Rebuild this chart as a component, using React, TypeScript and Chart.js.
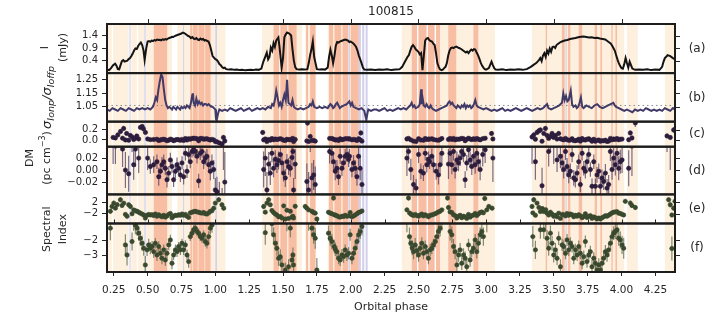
import React, { useEffect, useRef } from 'react';
import { Chart, registerables } from 'chart.js';
Chart.register(...registerables);
Chart.defaults.font.family = "'DejaVu Sans', sans-serif";

const TITLE = '100815';
const X_MIN = 0.2;
const X_MAX = 4.395;
const X_TICKS = [0.25, 0.5, 0.75, 1.0, 1.25, 1.5, 1.75, 2.0, 2.25, 2.5, 2.75, 3.0, 3.25, 3.5, 3.75, 4.0, 4.25];
const X_TOP_TICKS = [0.5, 1.0, 1.5, 2.0, 2.5, 3.0, 3.5, 4.0];
const X_LABEL = 'Orbital phase';

// Panel (a): I (mJy)
const I_FLUX: [number, number][] = [
  [0.2, 0.03], [0.215, 0.02], [0.23, 0.1], [0.245, 0.22], [0.26, 0.28], [0.27, 0.2], [0.28, 0.06], [0.29, 0.05], [0.3, 0.22], [0.31, 0.38], [0.32, 0.42], [0.33, 0.36], [0.34, 0.38], [0.35, 0.4], [0.36, 0.46], [0.37, 0.5], [0.38, 0.58], [0.39, 0.68], [0.4, 0.8], [0.41, 0.88], [0.42, 0.86], [0.43, 0.98], [0.44, 1.06], [0.45, 1.12], [0.46, 1.02], [0.47, 0.8], [0.478, 0.43], [0.49, 0.9], [0.5, 1.16],
  [0.51, 1.18], [0.52, 1.15], [0.53, 1.2], [0.54, 1.18], [0.55, 1.22], [0.56, 1.2], [0.57, 1.24], [0.58, 1.22], [0.59, 1.23], [0.6, 1.21], [0.61, 1.25], [0.62, 1.23], [0.63, 1.26], [0.64, 1.24], [0.65, 1.28], [0.66, 1.3], [0.67, 1.32], [0.68, 1.35], [0.69, 1.34], [0.7, 1.38], [0.71, 1.4], [0.72, 1.42], [0.73, 1.44], [0.74, 1.46], [0.75, 1.48], [0.76, 1.52], [0.77, 1.5], [0.78, 1.46], [0.79, 1.42], [0.8, 1.38],
  [0.81, 1.36], [0.82, 1.3], [0.83, 1.34], [0.84, 1.28], [0.85, 1.26], [0.86, 1.3], [0.87, 1.24], [0.88, 1.22], [0.89, 1.28], [0.9, 1.24], [0.91, 1.26], [0.92, 1.2], [0.93, 1.22], [0.94, 1.18], [0.95, 1.16], [0.96, 1.02], [0.97, 0.8], [0.98, 0.58], [0.99, 0.52], [1.0, 0.46], [1.01, 0.43], [1.02, 0.36], [1.03, 0.26], [1.04, 0.22], [1.05, 0.14], [1.06, 0.1], [1.07, 0.12], [1.08, 0.06],
  [1.1, 0.04], [1.12, 0.05], [1.14, 0.03], [1.16, 0.04], [1.18, 0.02], [1.2, 0.03], [1.22, 0.01], [1.24, 0.02], [1.26, 0.03], [1.28, 0.02], [1.3, 0.04], [1.32, 0.03], [1.34, 0.08],
  [1.355, 0.36], [1.365, 0.5], [1.38, 0.72], [1.39, 0.45], [1.4, 0.55], [1.41, 0.92], [1.42, 0.8], [1.43, 1.1], [1.44, 0.95], [1.45, 1.2], [1.466, 1.32], [1.475, 0.9], [1.49, 0.12], [1.5, 0.5], [1.51, 1.33], [1.52, 1.45], [1.53, 1.52], [1.54, 1.5], [1.55, 1.46], [1.56, 1.4], [1.57, 0.85], [1.58, 0.4], [1.59, 0.14], [1.6, 0.06], [1.62, 0.04], [1.64, 0.05], [1.66, 0.04], [1.68, 0.06],
  [1.69, 0.3], [1.7, 0.62], [1.71, 0.85], [1.72, 1.16], [1.73, 0.55], [1.74, 0.3], [1.75, 0.06], [1.77, 0.04], [1.79, 0.05], [1.81, 0.04], [1.83, 0.12], [1.84, 0.55], [1.85, 0.83], [1.86, 0.6], [1.87, 0.3], [1.88, 0.6], [1.89, 1.0], [1.9, 1.14], [1.91, 1.12], [1.92, 1.16], [1.93, 1.18], [1.94, 1.2], [1.95, 1.22], [1.96, 1.24], [1.97, 1.22], [1.98, 1.2], [1.99, 1.14], [2.0, 1.16],
  [2.01, 1.12], [2.02, 1.08], [2.03, 1.02], [2.04, 0.94], [2.05, 0.8], [2.06, 0.6], [2.07, 0.45], [2.08, 0.3], [2.09, 0.12], [2.1, 0.04], [2.12, 0.03], [2.15, 0.04], [2.18, 0.02], [2.21, 0.04], [2.24, 0.03], [2.27, 0.05], [2.3, 0.02], [2.33, 0.04], [2.36, 0.05],
  [2.38, 0.15], [2.4, 0.35], [2.42, 0.55], [2.43, 0.62], [2.44, 0.8], [2.45, 0.95], [2.46, 1.02], [2.47, 0.95], [2.48, 0.85], [2.49, 0.8], [2.5, 0.75], [2.51, 0.65], [2.52, 0.7], [2.53, 0.02], [2.54, 0.6], [2.55, 1.2], [2.56, 1.28], [2.57, 1.3], [2.58, 1.22], [2.59, 1.18], [2.6, 1.16], [2.61, 1.08], [2.62, 1.02], [2.63, 0.7], [2.64, 0.3], [2.65, 0.15], [2.66, 0.05], [2.67, 0.02], [2.68, 0.04],
  [2.69, 0.1], [2.7, 0.15], [2.71, 0.3], [2.72, 0.6], [2.73, 0.8], [2.74, 0.9], [2.75, 0.92], [2.76, 0.9], [2.77, 0.94], [2.78, 0.96], [2.79, 0.93], [2.8, 0.9], [2.81, 0.88], [2.82, 0.84], [2.83, 0.8], [2.84, 0.76], [2.85, 0.72], [2.86, 0.76], [2.87, 0.7], [2.88, 0.78], [2.89, 0.84], [2.9, 0.8], [2.91, 0.86], [2.92, 0.84], [2.93, 0.72], [2.94, 0.62], [2.95, 0.48], [2.96, 0.32], [2.97, 0.2], [2.98, 0.12], [2.99, 0.06], [3.0, 0.04],
  [3.02, 0.1], [3.04, 0.36], [3.05, 0.22], [3.06, 0.1], [3.07, 0.04], [3.09, 0.03], [3.12, 0.05], [3.15, 0.02], [3.18, 0.04], [3.21, 0.03], [3.24, 0.05], [3.27, 0.03], [3.3, 0.06],
  [3.33, 0.15], [3.35, 0.23], [3.37, 0.3], [3.39, 0.42], [3.4, 0.5], [3.41, 0.38], [3.42, 0.6], [3.43, 0.7], [3.44, 0.55], [3.45, 0.8], [3.46, 0.68], [3.47, 0.88], [3.48, 0.75], [3.49, 0.94], [3.5, 0.96], [3.51, 0.9], [3.52, 1.02], [3.53, 1.06], [3.54, 1.1], [3.55, 1.14], [3.56, 1.16], [3.57, 1.18], [3.58, 1.2], [3.6, 1.22], [3.62, 1.26], [3.64, 1.28], [3.66, 1.3], [3.68, 1.33], [3.7, 1.35], [3.72, 1.36],
  [3.74, 1.34], [3.76, 1.32], [3.78, 1.33], [3.8, 1.3], [3.82, 1.31], [3.84, 1.28], [3.86, 1.26], [3.88, 1.24], [3.9, 1.16], [3.91, 1.12], [3.92, 1.08], [3.93, 1.0], [3.94, 0.9], [3.95, 0.8], [3.96, 0.62], [3.97, 0.45], [3.98, 0.3], [3.99, 0.18], [4.0, 0.1], [4.01, 0.08], [4.02, 0.25], [4.03, 0.5], [4.04, 0.3], [4.05, 0.12], [4.06, 0.36], [4.07, 0.22], [4.08, 0.08],
  [4.1, 0.03], [4.13, 0.04], [4.16, 0.03], [4.19, 0.05], [4.22, 0.02], [4.25, 0.04], [4.28, 0.03], [4.3, 0.15], [4.31, 0.35], [4.32, 0.5], [4.33, 0.55], [4.34, 0.62], [4.36, 0.58], [4.38, 0.5], [4.395, 0.45],
];

// Panel (b): sigma ratio
const SIGMA_RATIO: [number, number][] = [
  [0.2, 1.03], [0.22, 1.02], [0.24, 1.04], [0.26, 1.03], [0.28, 1.02], [0.3, 1.04], [0.32, 1.03], [0.34, 1.02], [0.36, 1.04], [0.38, 1.03], [0.4, 1.02], [0.42, 1.04], [0.44, 1.03], [0.46, 1.04], [0.48, 1.03], [0.5, 1.04], [0.52, 1.03], [0.54, 1.05], [0.55, 1.08], [0.56, 1.12], [0.57, 1.1], [0.58, 1.18], [0.59, 1.24], [0.6, 1.29], [0.61, 1.27], [0.62, 1.18], [0.63, 1.1], [0.64, 1.06], [0.65, 1.04],
  [0.66, 1.05], [0.67, 1.04], [0.68, 1.03], [0.69, 1.05], [0.7, 1.04], [0.71, 1.03], [0.72, 1.05], [0.73, 1.04], [0.74, 1.03], [0.75, 1.05], [0.76, 1.04], [0.77, 1.05], [0.78, 1.04], [0.79, 1.06], [0.8, 1.05], [0.81, 1.04], [0.82, 1.08], [0.83, 1.14], [0.835, 1.15], [0.84, 1.08], [0.85, 1.06], [0.86, 1.11], [0.87, 1.07], [0.88, 1.09], [0.89, 1.07], [0.9, 1.08], [0.91, 1.06], [0.92, 1.07], [0.93, 1.07], [0.94, 1.06], [0.95, 1.07], [0.96, 1.06], [0.97, 1.05], [0.98, 1.05], [0.99, 1.04], [1.0, 1.03],
  [1.005, 0.96], [1.01, 0.95], [1.02, 1.0], [1.03, 1.03], [1.05, 1.02], [1.07, 1.03], [1.09, 1.02], [1.11, 1.04], [1.13, 1.03], [1.15, 1.02], [1.17, 1.03], [1.19, 1.04], [1.21, 1.02], [1.23, 1.03], [1.25, 1.04], [1.27, 1.02], [1.29, 1.03], [1.31, 1.04], [1.33, 1.03], [1.35, 1.04], [1.37, 1.03], [1.39, 1.05], [1.41, 1.04], [1.42, 1.07], [1.43, 1.06], [1.44, 1.1], [1.45, 1.17], [1.46, 1.12], [1.47, 1.06], [1.48, 1.08], [1.49, 1.05], [1.5, 1.1], [1.51, 1.14], [1.52, 1.1], [1.53, 1.25], [1.54, 1.08],
  [1.55, 1.07], [1.56, 1.06], [1.57, 1.1], [1.58, 1.05], [1.59, 1.04], [1.61, 1.03], [1.63, 1.04], [1.65, 1.03], [1.67, 1.04], [1.69, 1.05], [1.7, 1.07], [1.71, 1.06], [1.72, 1.09], [1.73, 1.05], [1.75, 1.04], [1.77, 1.05], [1.79, 1.04], [1.81, 1.05], [1.83, 1.04], [1.85, 1.07], [1.86, 1.06], [1.87, 1.04], [1.88, 1.05], [1.89, 1.07], [1.9, 1.08], [1.91, 1.06], [1.92, 1.04], [1.93, 1.05], [1.95, 1.06], [1.97, 1.07], [1.98, 1.08], [1.99, 1.09], [2.0, 1.06], [2.01, 1.08], [2.02, 1.05],
  [2.04, 1.04], [2.06, 1.03], [2.08, 1.04], [2.1, 1.02], [2.115, 0.955], [2.125, 1.01], [2.13, 1.03], [2.15, 1.02], [2.17, 1.03], [2.19, 1.03], [2.21, 1.02], [2.23, 1.03], [2.25, 1.04], [2.27, 1.02], [2.29, 1.03], [2.31, 1.02], [2.33, 1.03], [2.35, 1.04], [2.37, 1.03], [2.39, 1.04], [2.41, 1.03], [2.43, 1.05], [2.44, 1.06], [2.45, 1.08], [2.46, 1.05], [2.47, 1.06], [2.48, 1.04], [2.5, 1.05], [2.51, 1.07], [2.52, 1.18], [2.525, 1.07], [2.53, 1.12], [2.54, 1.06],
  [2.55, 1.05], [2.56, 1.07], [2.57, 1.05], [2.58, 1.04], [2.59, 1.06], [2.6, 1.04], [2.61, 1.03], [2.63, 1.02], [2.65, 1.03], [2.67, 1.04], [2.69, 1.05], [2.71, 1.06], [2.72, 1.08], [2.73, 1.09], [2.74, 1.07], [2.75, 1.08], [2.76, 1.06], [2.77, 1.05], [2.78, 1.04], [2.79, 1.06], [2.8, 1.05], [2.81, 1.04], [2.82, 1.06], [2.83, 1.05], [2.84, 1.07], [2.85, 1.04], [2.86, 1.06], [2.87, 1.05], [2.88, 1.06], [2.89, 1.04], [2.9, 1.05], [2.91, 1.07], [2.92, 1.1], [2.93, 1.06], [2.94, 1.05],
  [2.96, 1.04], [2.98, 1.03], [3.0, 1.04], [3.02, 1.03], [3.04, 1.02], [3.06, 1.03], [3.08, 1.02], [3.1, 1.03], [3.12, 1.04], [3.14, 1.02], [3.16, 1.03], [3.18, 1.02], [3.2, 1.03], [3.22, 1.04], [3.24, 1.03], [3.26, 1.02], [3.28, 1.03], [3.3, 1.04], [3.32, 1.03], [3.34, 1.02], [3.36, 1.03], [3.38, 1.04], [3.4, 1.03], [3.42, 1.04], [3.44, 1.06], [3.45, 1.07], [3.46, 1.04], [3.48, 1.03], [3.5, 1.04], [3.52, 1.05], [3.54, 1.06], [3.56, 1.08],
  [3.57, 1.15], [3.58, 1.1], [3.59, 1.13], [3.6, 1.09], [3.61, 1.1], [3.625, 1.17], [3.635, 1.07], [3.645, 1.05], [3.66, 1.06], [3.67, 1.04], [3.68, 1.05], [3.69, 1.08], [3.7, 1.12], [3.71, 1.05], [3.72, 1.04], [3.74, 1.06], [3.76, 1.05], [3.78, 1.04], [3.8, 1.06], [3.82, 1.07], [3.84, 1.05], [3.86, 1.04], [3.88, 1.05], [3.9, 1.06], [3.92, 1.07], [3.94, 1.08], [3.95, 1.06], [3.96, 1.05], [3.98, 1.04], [4.0, 1.03],
  [4.02, 1.02], [4.04, 1.03], [4.06, 1.02], [4.08, 1.01], [4.1, 1.03], [4.12, 1.02], [4.14, 1.03], [4.16, 1.02], [4.18, 1.04], [4.2, 1.03], [4.22, 1.02], [4.24, 1.03], [4.26, 1.02], [4.28, 1.03], [4.3, 1.02], [4.32, 1.04], [4.34, 1.03], [4.36, 1.02], [4.38, 1.04], [4.395, 1.03],
];
const SIGMA_REF = 1.06;

// Panels (c),(d): DM [phase, DM, error]
const DM: [number, number, number][] = [
  [0.245, 0.05, 0.04], [0.262, 0.04, 0.03], [0.28, 0.1, 0.05], [0.3, 0.17, 0.05], [0.315, 0.035, 0.03], [0.323, 0.23, 0.05], [0.336, 0.0, 0.03], [0.345, 0.13, 0.04], [0.36, -0.006, 0.03], [0.372, 0.09, 0.04], [0.385, 0.06, 0.03], [0.397, 0.009, 0.025], [0.41, 0.035, 0.03], [0.42, 0.08, 0.04], [0.434, 0.02, 0.025], [0.447, 0.25, 0.04], [0.46, 0.27, 0.04], [0.47, 0.22, 0.04], [0.484, 0.15, 0.04], [0.5, 0.02, 0.02],
  [0.52, 0.006, 0.012], [0.545, 0.009, 0.014], [0.569, 0.014, 0.012], [0.582, -0.011, 0.015], [0.594, -0.002, 0.012], [0.606, 0.009, 0.013], [0.619, 0.014, 0.012], [0.631, 0.003, 0.011], [0.643, -0.016, 0.013], [0.656, -0.005, 0.012], [0.668, 0.017, 0.012], [0.68, 0.006, 0.011], [0.692, -0.016, 0.012], [0.705, -0.002, 0.011], [0.717, 0.009, 0.012], [0.729, 0.003, 0.01], [0.742, -0.008, 0.012], [0.754, 0.012, 0.011], [0.766, -0.011, 0.013], [0.779, 0.028, 0.012], [0.791, -0.002, 0.011],
  [0.803, 0.026, 0.012], [0.815, 0.014, 0.011], [0.828, 0.031, 0.01], [0.84, 0.034, 0.01], [0.852, 0.031, 0.011], [0.865, 0.023, 0.012], [0.877, -0.018, 0.012], [0.889, 0.028, 0.011], [0.902, 0.031, 0.01], [0.914, 0.014, 0.012], [0.926, 0.02, 0.011], [0.938, 0.023, 0.012], [0.951, 0.009, 0.013], [0.963, -0.002, 0.015], [0.975, 0.012, 0.014], [0.988, 0.001, 0.016], [1.0, -0.033, 0.02], [1.012, -0.036, 0.025], [1.03, -0.06, 0.04], [1.05, -0.08, 0.05], [1.06, 0.05, 0.05], [1.07, -0.02, 0.05],
  [1.35, 0.15, 0.05], [1.357, 0.001, 0.03], [1.369, 0.02, 0.03], [1.381, -0.033, 0.03], [1.394, 0.01, 0.02], [1.406, -0.005, 0.02], [1.418, 0.028, 0.015], [1.43, 0.003, 0.015], [1.443, 0.018, 0.015], [1.455, 0.009, 0.014], [1.467, 0.016, 0.015], [1.48, 0.026, 0.013], [1.492, 0.012, 0.016], [1.504, -0.005, 0.014], [1.517, -0.013, 0.015], [1.529, 0.014, 0.013], [1.541, 0.006, 0.014], [1.554, 0.003, 0.014], [1.566, 0.021, 0.016], [1.573, 0.031, 0.015], [1.578, -0.033, 0.02], [1.59, 0.01, 0.025],
  [1.676, -0.019, 0.03], [1.681, 0.34, 0.06], [1.689, -0.033, 0.03], [1.701, 0.07, 0.04], [1.713, -0.013, 0.025], [1.726, -0.008, 0.025], [1.738, -0.024, 0.03],
  [1.844, 0.031, 0.02], [1.861, 0.028, 0.018], [1.873, 0.014, 0.016], [1.886, -0.002, 0.015], [1.898, 0.003, 0.014], [1.91, -0.011, 0.014], [1.922, 0.023, 0.013], [1.935, 0.003, 0.013], [1.947, 0.012, 0.012], [1.959, 0.023, 0.012], [1.972, 0.026, 0.012], [1.984, 0.018, 0.013], [1.991, 0.023, 0.012], [2.009, 0.001, 0.013], [2.021, 0.012, 0.013], [2.033, 0.003, 0.014], [2.046, -0.011, 0.015], [2.058, 0.023, 0.016], [2.07, 0.003, 0.02], [2.075, 0.14, 0.05], [2.083, -0.024, 0.025],
  [2.415, 0.02, 0.03], [2.427, 0.031, 0.02], [2.444, 0.001, 0.018], [2.464, -0.024, 0.016], [2.483, -0.03, 0.015], [2.501, 0.026, 0.014], [2.518, -0.002, 0.013], [2.537, -0.005, 0.013], [2.55, 0.028, 0.012], [2.562, 0.009, 0.013], [2.574, 0.018, 0.013], [2.582, 0.014, 0.012], [2.599, 0.023, 0.013], [2.611, 0.009, 0.013], [2.631, -0.002, 0.014], [2.648, -0.008, 0.016], [2.66, 0.009, 0.018], [2.673, 0.028, 0.02],
  [2.722, 0.01, 0.025], [2.734, 0.028, 0.018], [2.747, 0.009, 0.016], [2.759, 0.031, 0.015], [2.771, 0.001, 0.015], [2.784, 0.017, 0.014], [2.796, 0.012, 0.014], [2.808, 0.02, 0.013], [2.82, 0.031, 0.013], [2.833, 0.026, 0.013], [2.845, -0.016, 0.014], [2.857, 0.012, 0.013], [2.87, 0.034, 0.013], [2.882, 0.017, 0.013], [2.894, 0.006, 0.014], [2.907, 0.023, 0.014], [2.919, 0.009, 0.015], [2.931, 0.028, 0.015], [2.943, 0.014, 0.016], [2.956, 0.001, 0.018], [2.975, 0.026, 0.02], [2.993, 0.034, 0.022], [3.04, 0.13, 0.05], [3.05, 0.02, 0.04],
  [3.339, 0.06, 0.05], [3.352, 0.1, 0.05], [3.364, 0.014, 0.03], [3.376, 0.15, 0.05], [3.389, 0.18, 0.05], [3.401, 0.2, 0.05], [3.413, -0.026, 0.03], [3.426, 0.13, 0.04], [3.438, 0.23, 0.05], [3.45, 0.09, 0.04], [3.462, 0.031, 0.025], [3.475, 0.07, 0.04], [3.487, 0.13, 0.04], [3.499, 0.05, 0.04], [3.512, 0.09, 0.04], [3.524, 0.017, 0.02], [3.536, 0.13, 0.04], [3.549, 0.023, 0.02],
  [3.561, 0.012, 0.015], [3.573, 0.001, 0.015], [3.586, 0.031, 0.014], [3.598, 0.006, 0.014], [3.61, -0.008, 0.014], [3.622, -0.002, 0.013], [3.635, 0.026, 0.013], [3.647, -0.013, 0.013], [3.659, -0.016, 0.013], [3.672, -0.005, 0.013], [3.684, 0.014, 0.012], [3.696, -0.024, 0.013], [3.709, 0.028, 0.012], [3.721, 0.003, 0.012], [3.733, -0.002, 0.012], [3.745, 0.014, 0.012], [3.758, 0.026, 0.012], [3.77, 0.001, 0.012],
  [3.782, -0.027, 0.013], [3.795, 0.014, 0.012], [3.807, -0.027, 0.013], [3.819, -0.008, 0.013], [3.832, -0.002, 0.013], [3.844, -0.027, 0.014], [3.856, -0.013, 0.014], [3.868, -0.019, 0.014], [3.881, -0.005, 0.015], [3.893, -0.03, 0.015], [3.905, -0.024, 0.016], [3.918, 0.031, 0.016], [3.93, 0.001, 0.017], [3.942, 0.02, 0.017], [3.954, 0.009, 0.018], [3.967, 0.028, 0.018], [3.979, 0.003, 0.02], [3.991, 0.014, 0.02], [4.004, 0.017, 0.022],
  [4.053, 0.003, 0.03], [4.065, 0.14, 0.05], [4.077, 0.04, 0.05], [4.102, 0.34, 0.08], [4.336, 0.08, 0.05], [4.36, 0.05, 0.05], [4.385, 0.2, 0.06],
];

// Panels (e),(f): spectral index [phase, index, error]
const SPEC: [number, number, number][] = [
  [0.225, -1.2, 0.8], [0.237, 0.55, 0.9], [0.25, 1.76, 0.9], [0.262, -0.06, 0.8], [0.275, 1.2, 0.9], [0.299, 2.97, 0.9], [0.311, 0.9, 0.8], [0.324, 1.76, 0.8], [0.336, -2.31, 0.7], [0.348, -2.98, 0.7], [0.36, 1.15, 0.8], [0.373, 0.55, 0.8], [0.385, -2.09, 0.6], [0.397, -0.67, 0.7], [0.41, -1.0, 0.6], [0.422, -1.2, 0.5], [0.434, -1.53, 0.5], [0.446, -1.87, 0.5], [0.459, -2.2, 0.5], [0.471, -2.53, 0.5], [0.483, -3.64, 0.6], [0.496, -2.64, 0.4],
  [0.508, -2.31, 0.4], [0.52, -2.53, 0.4], [0.533, -2.4, 0.35], [0.545, -2.76, 0.4], [0.557, -2.2, 0.35], [0.569, -2.98, 0.4], [0.582, -2.42, 0.35], [0.594, -2.87, 0.35], [0.606, -3.2, 0.4], [0.619, -2.64, 0.35], [0.631, -3.31, 0.4], [0.643, -2.87, 0.35], [0.656, -2.31, 0.35], [0.668, -1.98, 0.35], [0.68, -3.53, 0.4], [0.692, -2.98, 0.35], [0.705, -2.64, 0.35], [0.717, -2.76, 0.35], [0.729, -2.42, 0.3], [0.742, -2.64, 0.35], [0.754, -2.2, 0.3], [0.766, -2.64, 0.35], [0.779, -2.31, 0.3], [0.791, -2.98, 0.35],
  [0.803, -3.42, 0.4], [0.815, -1.76, 0.3], [0.828, -1.53, 0.3], [0.84, -1.31, 0.3], [0.852, -1.2, 0.3], [0.865, -1.42, 0.3], [0.877, -1.53, 0.3], [0.889, -1.76, 0.3], [0.902, -1.87, 0.3], [0.914, -1.64, 0.3], [0.926, -2.09, 0.35], [0.938, -2.2, 0.35], [0.951, -1.76, 0.35], [0.963, -1.2, 0.4], [0.975, -1.0, 0.5], [0.988, -0.06, 0.6], [1.0, 1.76, 0.8], [1.025, 2.97, 0.9], [1.049, 1.15, 0.9], [1.062, -0.06, 0.9],
  [1.357, 0.55, 0.9], [1.369, -1.5, 0.8], [1.381, 1.76, 0.8], [1.394, 2.97, 0.8], [1.406, 1.15, 0.7], [1.418, -0.9, 0.7], [1.43, -1.64, 0.5], [1.443, -2.2, 0.5], [1.455, -2.53, 0.5], [1.467, -3.2, 0.5], [1.48, -3.1, 0.5], [1.492, -3.64, 0.5], [1.505, 0.77, 0.7], [1.517, -3.98, 0.5], [1.529, -0.8, 0.6], [1.541, -3.76, 0.5], [1.554, -1.2, 0.6], [1.566, -3.31, 0.5], [1.573, -2.98, 0.5], [1.578, -3.64, 0.6], [1.59, 0.6, 0.8],
  [1.664, 0.55, 0.8], [1.676, -0.06, 0.8], [1.689, -0.67, 0.7], [1.713, -1.2, 0.6], [1.726, -1.64, 0.6], [1.738, -1.87, 0.7], [1.75, -3.98, 0.8],
  [1.836, -1.53, 0.5], [1.849, -1.87, 0.5], [1.861, -2.09, 0.5], [1.873, 3.6, 0.9], [1.878, -2.42, 0.45], [1.886, -2.6, 0.45], [1.898, -2.76, 0.4], [1.91, -3.2, 0.4], [1.922, -3.31, 0.4], [1.935, -2.98, 0.4], [1.947, -3.09, 0.4], [1.959, -2.64, 0.35], [1.972, -2.98, 0.4], [1.984, -2.87, 0.4], [1.996, -1.64, 0.4], [2.009, -3.2, 0.4], [2.021, -2.87, 0.4], [2.033, -2.53, 0.4], [2.046, -2.09, 0.4], [2.058, -1.64, 0.45], [2.07, -1.42, 0.5], [2.083, -1.09, 0.6],
  [2.415, -0.67, 0.8], [2.427, 3.6, 0.9], [2.434, -1.76, 0.6], [2.444, -2.2, 0.5], [2.454, -2.5, 0.5], [2.464, -2.76, 0.5], [2.476, -2.31, 0.45], [2.488, -2.7, 0.45], [2.501, -2.98, 0.45], [2.513, -2.53, 0.4], [2.525, -2.2, 0.4], [2.537, -2.87, 0.4], [2.55, -2.42, 0.4], [2.562, -2.76, 0.4], [2.574, -3.2, 0.4], [2.587, -2.64, 0.4], [2.599, -2.53, 0.4], [2.611, -2.31, 0.4], [2.624, -2.09, 0.4], [2.636, -1.76, 0.45], [2.648, -1.42, 0.5], [2.66, -1.2, 0.55], [2.673, -0.67, 0.7],
  [2.715, 3.6, 0.9], [2.722, 0.18, 0.8], [2.734, -1.42, 0.6], [2.747, -1.64, 0.55], [2.759, -2.42, 0.5], [2.771, -2.76, 0.5], [2.784, -3.64, 0.5], [2.796, -2.98, 0.45], [2.808, -2.64, 0.45], [2.82, -3.53, 0.45], [2.833, -2.98, 0.45], [2.845, -3.2, 0.45], [2.857, -3.76, 0.45], [2.87, -2.31, 0.4], [2.882, -3.31, 0.45], [2.894, -2.76, 0.4], [2.907, -2.53, 0.4], [2.919, -1.98, 0.4], [2.931, -2.76, 0.45], [2.943, -2.2, 0.45], [2.956, -1.64, 0.5], [2.968, -1.42, 0.5], [2.98, -1.76, 0.6], [2.99, 3.45, 0.9], [3.005, -0.67, 0.8], [3.02, 0.55, 0.8], [3.044, -0.06, 0.9],
  [3.339, 0.55, 0.9], [3.345, -1.76, 0.7], [3.352, 2.97, 0.9], [3.364, -2.64, 0.6], [3.376, 1.76, 0.8], [3.39, 0.2, 0.7], [3.401, -1.31, 0.6], [3.415, -0.2, 0.7], [3.426, -1.31, 0.6], [3.44, -0.6, 0.6], [3.45, -1.87, 0.55], [3.462, -2.53, 0.5], [3.475, -1.53, 0.5], [3.487, -2.2, 0.5], [3.499, -2.98, 0.5], [3.512, -2.64, 0.45], [3.524, -3.2, 0.45], [3.536, -1.87, 0.45], [3.549, -3.76, 0.5],
  [3.561, -2.31, 0.4], [3.573, -2.42, 0.4], [3.586, -2.87, 0.4], [3.598, -1.98, 0.4], [3.61, -2.64, 0.4], [3.622, -2.2, 0.4], [3.635, -2.42, 0.4], [3.647, -3.2, 0.4], [3.659, -2.64, 0.4], [3.672, -2.98, 0.4], [3.684, -2.42, 0.4], [3.696, -2.87, 0.4], [3.709, -3.53, 0.4], [3.721, -3.09, 0.4], [3.733, -2.09, 0.4], [3.745, -3.42, 0.4], [3.758, -2.98, 0.4], [3.77, -2.76, 0.4],
  [3.782, -3.76, 0.45], [3.795, -3.2, 0.4], [3.807, -3.53, 0.45], [3.819, -3.98, 0.45], [3.832, -3.64, 0.45], [3.844, -3.98, 0.45], [3.856, -3.53, 0.45], [3.868, -3.2, 0.45], [3.881, -2.76, 0.45], [3.893, -2.98, 0.45], [3.905, -2.64, 0.45], [3.918, -2.2, 0.45], [3.93, -1.76, 0.45], [3.942, -1.53, 0.45], [3.954, -1.42, 0.5], [3.967, -1.31, 0.5], [3.979, -1.87, 0.5], [3.991, -1.98, 0.55], [4.004, -2.31, 0.6], [4.016, -2.53, 0.7],
  [4.028, 2.4, 0.9], [4.065, 1.76, 0.9], [4.077, 0.9, 0.9], [4.102, 0.18, 0.9], [4.348, 2.97, 0.9], [4.36, 1.15, 0.9], [4.372, -2.55, 0.8], [4.385, -0.06, 0.9], [4.395, 2.4, 0.9],
];
const X_ERR = 0.018;

// Background bands [start, end, kind]: p = pale, s = salmon, b = lavender
const BANDS: [number, number, string][] = [
  [0.2, 0.235, 'p'], [0.245, 0.36, 'p'], [0.366, 0.374, 'b'], [0.38, 0.42, 'p'], [0.43, 0.475, 'p'], [0.476, 0.485, 'b'], [0.485, 0.545, 'p'], [0.545, 0.645, 's'], [0.645, 0.68, 'p'], [0.72, 0.762, 'p'], [0.762, 0.77, 'b'], [0.77, 1.0, 'p'], [0.815, 0.83, 's'], [0.835, 0.87, 's'], [0.875, 0.92, 's'], [0.925, 0.965, 's'], [1.0, 1.012, 'b'], [1.012, 1.075, 'p'],
  [1.345, 1.64, 'p'], [1.43, 1.47, 's'], [1.48, 1.53, 's'], [1.54, 1.6, 's'],
  [1.665, 1.745, 'p'], [1.67, 1.685, 's'], [1.7, 1.74, 's'],
  [1.83, 2.06, 'p'], [1.84, 1.87, 's'], [1.88, 1.93, 's'], [1.94, 1.98, 's'], [1.984, 1.994, 'b'], [2.0, 2.06, 's'], [2.06, 2.075, 'b'], [2.085, 2.1, 'b'], [2.11, 2.125, 'b'],
  [2.377, 2.45, 'p'], [2.45, 2.49, 's'], [2.5, 2.56, 's'], [2.57, 2.62, 's'], [2.63, 2.66, 's'], [2.66, 2.72, 'p'], [2.72, 2.78, 's'], [2.78, 2.906, 'p'], [2.906, 2.943, 's'], [2.943, 3.066, 'p'],
  [3.337, 4.02, 'p'], [3.44, 3.45, 's'], [3.56, 3.58, 's'], [3.587, 3.595, 'b'], [3.605, 3.622, 's'], [3.684, 3.709, 's'], [3.802, 3.819, 's'], [3.844, 3.856, 's'], [3.925, 3.935, 's'], [3.955, 3.967, 's'], [4.04, 4.12, 'p'], [4.32, 4.395, 'p'],
];

// Y axes, top to bottom
const Y_IDS = ['yA', 'yB', 'yC', 'yD', 'yE', 'yF'];
const Y_MIN = [-0.1, 0.94, -0.135, -0.0405, -5.6, -4.11];
const Y_MAX = [1.86, 1.3, 0.365, 0.039, 4.9, -0.89];
const Y_TICKS = [[0.4, 0.9, 1.4], [1.05, 1.15, 1.25], [0.0, 0.2], [-0.02, 0.0, 0.02], [-2, 2], [-3, -2]];
const Y_TICK_LABELS = [['0.4', '0.9', '1.4'], ['1.05', '1.15', '1.25'], ['0.0', '0.2'], ['\u22120.02', '0.00', '0.02'], ['\u22122', '2'], ['\u22123', '\u22122']];
const PANEL_TAGS = ['(a)', '(b)', '(c)', '(d)', '(e)', '(f)'];

// layout (not data)
const PANEL_WEIGHTS = [49, 48.4, 25, 47.6, 29, 48.4];
const BAND_COLORS: Record<string, string> = { p: '#fdf0de', s: '#f8bea4', b: '#d2cfea' };
const INK = '#262626';

const FONT = "'DejaVu Sans', sans-serif";

function drawRotParts(ctx: CanvasRenderingContext2D, parts: { t: string; size: number; italic?: boolean; dy?: number }[], cx: number, cy: number) {
  ctx.save();
  ctx.translate(cx, cy);
  ctx.rotate(-Math.PI / 2);
  ctx.textBaseline = 'middle';
  ctx.textAlign = 'left';
  let total = 0;
  const widths = parts.map((p) => {
    ctx.font = `${p.italic ? 'italic ' : ''}${p.size}px ${FONT}`;
    const w = ctx.measureText(p.t).width;
    total += w;
    return w;
  });
  let x = -total / 2;
  parts.forEach((p, i) => {
    ctx.font = `${p.italic ? 'italic ' : ''}${p.size}px ${FONT}`;
    ctx.fillText(p.t, x, p.dy || 0);
    x += widths[i];
  });
  ctx.restore();
}

const panelPlugin = {
  id: 'panelPlugin',
  beforeDatasetsDraw(chart: any) {
    const { ctx, chartArea, scales } = chart;
    const xs = scales.x;
    ctx.save();
    for (const kind of ['p', 's', 'b']) {
      ctx.fillStyle = BAND_COLORS[kind];
      for (const [a, b, k] of BANDS) {
        if (k !== kind) continue;
        const x1 = xs.getPixelForValue(a);
        const x2 = xs.getPixelForValue(b);
        ctx.fillRect(x1, chartArea.top, Math.max(1, x2 - x1), chartArea.bottom - chartArea.top);
      }
    }
    const ye = scales.yE;
    ctx.strokeStyle = INK;
    ctx.lineWidth = 1;
    ctx.beginPath();
    for (const t of X_TICKS) {
      const px = Math.round(xs.getPixelForValue(t)) + 0.5;
      ctx.moveTo(px, ye.bottom);
      ctx.lineTo(px, ye.bottom - 4);
    }
    ctx.stroke();
    ctx.restore();
  },
  beforeDatasetDraw(chart: any, args: any) {
    const { ctx, chartArea } = chart;
    const ys = args.meta.yScale;
    const xs = args.meta.xScale;
    ctx.save();
    ctx.beginPath();
    ctx.rect(chartArea.left, ys.top, chartArea.right - chartArea.left, ys.bottom - ys.top);
    ctx.clip();
    const ds = chart.data.datasets[args.index];
    const src = ds.errKey === 'dm' ? DM : ds.errKey === 'spec' ? SPEC : null;
    if (src) {
      ctx.lineWidth = 1;
      ctx.strokeStyle = 'rgba(175,175,175,0.55)';
      ctx.beginPath();
      for (const [x, y] of src) {
        const py = ys.getPixelForValue(y);
        ctx.moveTo(xs.getPixelForValue(x - X_ERR), py);
        ctx.lineTo(xs.getPixelForValue(x + X_ERR), py);
      }
      ctx.stroke();
      ctx.lineWidth = 1.2;
      ctx.strokeStyle = ds.errColor;
      ctx.beginPath();
      for (const [x, y, e] of src) {
        const px = xs.getPixelForValue(x);
        ctx.moveTo(px, ys.getPixelForValue(y - e));
        ctx.lineTo(px, ys.getPixelForValue(y + e));
      }
      ctx.stroke();
    }
  },
  afterDatasetDraw(chart: any) {
    chart.ctx.restore();
  },
  afterDatasetsDraw(chart: any) {
    const { ctx, chartArea, scales } = chart;
    ctx.save();
    ctx.strokeStyle = '#1c1c1c';
    ctx.lineWidth = 2;
    for (const id of Y_IDS) {
      const s = scales[id];
      ctx.strokeRect(chartArea.left, s.top, chartArea.right - chartArea.left, s.bottom - s.top);
    }
    ctx.restore();
  },
  afterDraw(chart: any) {
    const { ctx, chartArea, scales } = chart;
    const xs = scales.x;
    ctx.save();
    ctx.strokeStyle = INK;
    ctx.lineWidth = 1;
    ctx.beginPath();
    Y_IDS.forEach((id, i) => {
      const s = scales[id];
      for (const v of Y_TICKS[i]) {
        const py = Math.round(s.getPixelForValue(v)) + 0.5;
        ctx.moveTo(chartArea.right, py);
        ctx.lineTo(chartArea.right + 5, py);
      }
    });
    for (const t of X_TOP_TICKS) {
      const px = Math.round(xs.getPixelForValue(t)) + 0.5;
      ctx.moveTo(px, chartArea.top);
      ctx.lineTo(px, chartArea.top - 5);
    }
    ctx.stroke();

    ctx.fillStyle = INK;
    ctx.textBaseline = 'middle';
    ctx.textAlign = 'center';
    ctx.font = `12px ${FONT}`;
    ctx.fillText(TITLE, (chartArea.left + chartArea.right) / 2, 12);
    ctx.font = `11px ${FONT}`;
    ctx.fillText(X_LABEL, (chartArea.left + chartArea.right) / 2, 307);
    ctx.font = `12px ${FONT}`;
    Y_IDS.forEach((id, i) => {
      const s = scales[id];
      ctx.fillText(PANEL_TAGS[i], 697, (s.top + s.bottom) / 2);
    });

    const yA = scales.yA, yB = scales.yB, yC = scales.yC, yD = scales.yD, yE = scales.yE, yF = scales.yF;
    const aMid = (yA.top + yA.bottom) / 2 - 1;
    drawRotParts(ctx, [{ t: 'I', size: 11 }], 45, aMid);
    drawRotParts(ctx, [{ t: '(mJy)', size: 11 }], 63, aMid);
    const bMid = (yB.top + yB.bottom) / 2;
    drawRotParts(ctx, [
      { t: '\u03c3', size: 13, italic: true },
      { t: 'Ionp', size: 9.5, italic: true, dy: 3.5 },
      { t: '/', size: 13, italic: true },
      { t: '\u03c3', size: 13, italic: true },
      { t: 'Ioffp', size: 9.5, italic: true, dy: 3.5 },
    ], 48, bMid);
    const dmMid = (yC.top + yD.bottom) / 2;
    drawRotParts(ctx, [{ t: 'DM', size: 11 }], 30, dmMid);
    drawRotParts(ctx, [
      { t: '(pc cm', size: 11 },
      { t: '\u22123', size: 8, dy: -4 },
      { t: ')', size: 11 },
    ], 47, dmMid);
    const siMid = (yE.top + yF.bottom) / 2 - 4;
    drawRotParts(ctx, [{ t: 'Spectral', size: 11 }], 47, siMid);
    drawRotParts(ctx, [{ t: 'Index', size: 11 }], 63, siMid);
    ctx.restore();
  },
};

function buildYScales() {
  const out: any = {};
  Y_IDS.forEach((id, i) => {
    out[id] = {
      type: 'linear',
      position: 'left',
      stack: 'panels',
      stackWeight: PANEL_WEIGHTS[i],
      weight: Y_IDS.length - i,
      min: Y_MIN[i],
      max: Y_MAX[i],
      afterBuildTicks: (s: any) => {
        s.ticks = Y_TICKS[i].map((v) => ({ value: v }));
      },
      ticks: {
        autoSkip: false,
        padding: 4,
        color: INK,
        font: { size: 10, family: FONT },
        callback: (_v: any, idx: number) => Y_TICK_LABELS[i][idx],
      },
      grid: { drawOnChartArea: false, drawTicks: true, tickLength: 5, color: INK, lineWidth: 1 },
      border: { display: false },
      afterFit: (s: any) => {
        s.width = 107;
      },
    };
  });
  return out;
}

export default function App() {
  const ref = useRef<HTMLCanvasElement>(null);
  useEffect(() => {
    const dmPts = DM.map(([x, y]) => ({ x, y }));
    const spPts = SPEC.map(([x, y]) => ({ x, y }));
    const dmStyle = { pointRadius: 2.2, pointBackgroundColor: '#2c1d3d', pointBorderColor: '#2c1d3d', pointBorderWidth: 0.5, errKey: 'dm', errColor: 'rgba(80,62,98,0.75)' };
    const spStyle = { pointRadius: 2.2, pointBackgroundColor: '#39492e', pointBorderColor: '#39492e', pointBorderWidth: 0.5, errKey: 'spec', errColor: 'rgba(88,104,76,0.75)' };
    const chart = new Chart(ref.current as HTMLCanvasElement, {
      type: 'scatter',
      data: {
        datasets: [
          { data: I_FLUX.map(([x, y]) => ({ x, y })), yAxisID: 'yA', showLine: true, pointRadius: 0, borderColor: '#141414', borderWidth: 2, tension: 0 } as any,
          { data: SIGMA_RATIO.map(([x, y]) => ({ x, y })), yAxisID: 'yB', showLine: true, pointRadius: 0, borderColor: '#403a68', borderWidth: 2, tension: 0 } as any,
          { data: [{ x: X_MIN, y: SIGMA_REF }, { x: X_MAX, y: SIGMA_REF }], yAxisID: 'yB', showLine: true, pointRadius: 0, borderColor: '#8a8a8a', borderWidth: 1, borderDash: [1.5, 3] } as any,
          { data: dmPts, yAxisID: 'yC', ...dmStyle } as any,
          { data: dmPts, yAxisID: 'yD', ...dmStyle } as any,
          { data: spPts, yAxisID: 'yE', ...spStyle } as any,
          { data: spPts, yAxisID: 'yF', ...spStyle } as any,
        ],
      },
      options: {
        responsive: false,
        animation: false,
        devicePixelRatio: 1,
        events: [],
        layout: { padding: { left: 0, right: 35, top: 24, bottom: 0 } },
        plugins: { legend: { display: false }, tooltip: { enabled: false }, title: { display: false } },
        scales: {
          x: {
            type: 'linear',
            position: 'bottom',
            min: X_MIN,
            max: X_MAX,
            afterBuildTicks: (s: any) => {
              s.ticks = X_TICKS.map((v) => ({ value: v }));
            },
            ticks: {
              autoSkip: false,
              maxRotation: 0,
              padding: 8,
              color: INK,
              font: { size: 10.5, family: FONT },
              callback: (v: any) => Number(v).toFixed(2),
            },
            grid: { drawOnChartArea: false, drawTicks: true, tickLength: 4, color: INK, lineWidth: 1 },
            border: { display: false },
            afterFit: (s: any) => {
              s.height = 49;
            },
          },
          ...buildYScales(),
        },
      } as any,
      plugins: [panelPlugin],
    });
    return () => chart.destroy();
  }, []);
  return (
    <div style={{ position: 'fixed', left: 0, top: 0, width: 710, height: 321, background: '#ffffff' }}>
      <canvas ref={ref} width={710} height={321} style={{ display: 'block', width: 710, height: 321 }} />
    </div>
  );
}
